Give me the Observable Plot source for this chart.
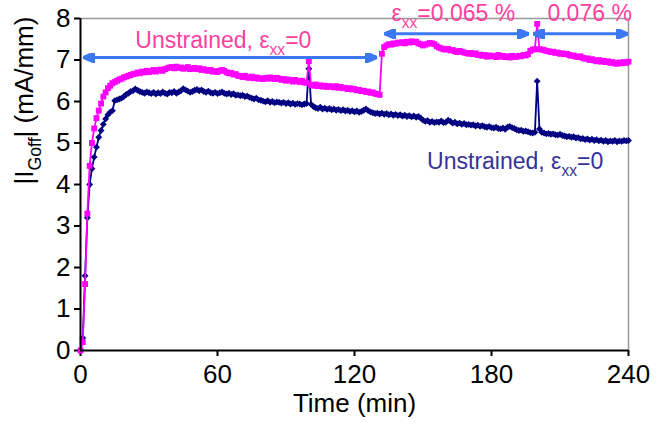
<!DOCTYPE html>
<html>
<head>
<meta charset="utf-8">
<script src="https://cdn.jsdelivr.net/npm/d3@7"></script>
<script src="https://cdn.jsdelivr.net/npm/@observablehq/plot@0.6"></script>
<style>
  html, body { margin: 0; padding: 0; background: #fff; }
  #chart { width: 671px; height: 434px; }
</style>
</head>
<body>
<div id="chart"></div>
<script>
// ---- Data (one sample per minute, t = 0 … 240 min) ----
const sampleStepMin = 1;
const strainedSeries = [ // magenta squares
  0, 0.2, 1.6, 3.3, 4.45, 5.0, 5.35, 5.6, 5.78, 5.95,
  6.12, 6.22, 6.32, 6.38, 6.44, 6.47, 6.5, 6.53, 6.55, 6.58,
  6.6, 6.62, 6.64, 6.66, 6.67, 6.70, 6.68, 6.72, 6.70, 6.74,
  6.71, 6.73, 6.76, 6.72, 6.75, 6.77, 6.74, 6.78, 6.80, 6.82,
  6.83, 6.80, 6.84, 6.81, 6.82, 6.79, 6.80, 6.83, 6.78, 6.79,
  6.81, 6.78, 6.80, 6.76, 6.78, 6.75, 6.74, 6.76, 6.72, 6.73,
  6.71, 6.74, 6.76, 6.74, 6.70, 6.68, 6.69, 6.65, 6.66, 6.62,
  6.61, 6.59, 6.62, 6.58, 6.57, 6.60, 6.56, 6.58, 6.55, 6.56,
  6.54, 6.57, 6.55, 6.58, 6.56, 6.54, 6.57, 6.55, 6.52, 6.54,
  6.50, 6.53, 6.51, 6.48, 6.52, 6.49, 6.47, 6.50, 6.46, 6.45,
  6.97, 6.40, 6.38, 6.41, 6.37, 6.39, 6.36, 6.38, 6.35, 6.37,
  6.36, 6.34, 6.37, 6.33, 6.35, 6.32, 6.33, 6.30, 6.32, 6.29,
  6.30, 6.27, 6.28, 6.25, 6.26, 6.23, 6.24, 6.21, 6.22, 6.19,
  6.18, 6.16, 7.15, 7.31, 7.35, 7.38, 7.37, 7.40, 7.39, 7.42,
  7.41, 7.43, 7.40, 7.44, 7.42, 7.45, 7.43, 7.44, 7.40, 7.38,
  7.35, 7.37, 7.39, 7.41, 7.40, 7.38, 7.33, 7.30, 7.28, 7.26,
  7.25, 7.27, 7.23, 7.24, 7.21, 7.19, 7.22, 7.20, 7.18, 7.17,
  7.15, 7.17, 7.14, 7.16, 7.12, 7.13, 7.10, 7.12, 7.08, 7.11,
  7.09, 7.10, 7.07, 7.12, 7.08, 7.10, 7.07, 7.09, 7.06, 7.10,
  7.07, 7.08, 7.10, 7.09, 7.12, 7.11, 7.14, 7.22, 7.25, 7.26,
  7.87, 7.26, 7.25, 7.24, 7.22, 7.21, 7.19, 7.20, 7.17, 7.18,
  7.15, 7.16, 7.14, 7.15, 7.12, 7.10, 7.11, 7.08, 7.07, 7.09,
  7.05, 7.03, 7.04, 7.00, 7.02, 6.99, 6.97, 7.00, 6.96, 6.98,
  6.95, 6.97, 6.93, 6.95, 6.92, 6.91, 6.94, 6.92, 6.95, 6.93,
  6.96
];
const unstrainedSeries = [ // navy diamonds
  0, 0.3, 1.8, 3.2, 4.0, 4.38, 4.66, 4.9, 5.14, 5.3,
  5.45, 5.58, 5.68, 5.74, 5.78, 6.02, 6.04, 6.06, 6.08, 6.12,
  6.17, 6.20, 6.24, 6.26, 6.30, 6.27, 6.24, 6.22, 6.20, 6.23,
  6.21, 6.19, 6.22, 6.18, 6.21, 6.19, 6.23, 6.20, 6.18, 6.22,
  6.21, 6.24, 6.20, 6.23, 6.26, 6.31, 6.28, 6.25, 6.22, 6.24,
  6.27, 6.29, 6.26, 6.28, 6.24, 6.22, 6.25, 6.21, 6.20, 6.22,
  6.19, 6.21, 6.23, 6.20, 6.18, 6.20, 6.17, 6.19, 6.15, 6.16,
  6.14, 6.15, 6.12, 6.13, 6.10, 6.08, 6.06, 6.08, 6.04, 6.03,
  6.01, 5.99, 6.02, 5.98, 6.00, 5.97, 5.99, 5.98, 5.96, 5.98,
  5.95, 5.97, 5.94, 5.96, 5.93, 5.95, 5.94, 5.92, 5.94, 5.95,
  6.79, 5.93, 5.88, 5.85, 5.83, 5.86, 5.82, 5.84, 5.81, 5.83,
  5.80, 5.82, 5.79, 5.81, 5.78, 5.80, 5.77, 5.79, 5.76, 5.78,
  5.75, 5.77, 5.74, 5.76, 5.79, 5.82, 5.78, 5.75, 5.73, 5.71,
  5.72, 5.70, 5.72, 5.69, 5.71, 5.68, 5.70, 5.67, 5.69, 5.66,
  5.68, 5.65, 5.67, 5.64, 5.66, 5.63, 5.65, 5.62, 5.64, 5.60,
  5.55, 5.52, 5.54, 5.50, 5.52, 5.49, 5.51, 5.50, 5.53, 5.49,
  5.50, 5.55, 5.52, 5.48, 5.50, 5.46, 5.48, 5.45, 5.47, 5.44,
  5.45, 5.43, 5.44, 5.41, 5.43, 5.40, 5.42, 5.39, 5.38, 5.40,
  5.37, 5.36, 5.38, 5.35, 5.34, 5.36, 5.33, 5.38, 5.40, 5.37,
  5.35, 5.32, 5.30, 5.31, 5.28, 5.29, 5.27, 5.25, 5.24, 5.26,
  6.49, 5.34, 5.26, 5.24, 5.22, 5.23, 5.21, 5.22, 5.20, 5.19,
  5.21, 5.18, 5.17, 5.15, 5.16, 5.14, 5.15, 5.12, 5.13, 5.10,
  5.11, 5.08, 5.10, 5.07, 5.09, 5.06, 5.08, 5.05, 5.07, 5.04,
  5.06, 5.03, 5.05, 5.04, 5.06, 5.03, 5.05, 5.04, 5.06, 5.05,
  5.06
];
const xTicks = [0, 60, 120, 180, 240];
const yTicks = [0, 1, 2, 3, 4, 5, 6, 7, 8];
const xTitle = "Time (min)";
const yTitle = "|I_{Goff}| (mA/mm)";
// strain-period arrows
const periodStart = [1.2, 133.1, 198.2];
const periodEnd = [129.9, 196.3, 239.8];
const periodLevel = [7.06, 7.63, 7.63];
// annotations
const pinkLabels = ["Unstrained, ε_{xx}=0", "ε_{xx}=0.065 %", "0.076 %"];
const pinkLabelT = [24, 136.2, 204.5];
const pinkLabelV = [7.47, 8.12, 8.12];
const navyLabels = ["Unstrained, ε_{xx}=0"];
const navyLabelT = [151.8];
const navyLabelV = [4.55];

// ---- Build tables ----
const strained = strainedSeries.map((v, i) => ({t: i * sampleStepMin, v}));
const unstrained = unstrainedSeries.map((v, i) => ({t: i * sampleStepMin, v}));
const periods = periodStart.map((s, i) => ({x1: s, x2: periodEnd[i], y: periodLevel[i]}));
const pinkAnn = pinkLabels.map((txt, i) => ({txt, t: pinkLabelT[i], v: pinkLabelV[i]}));
const navyAnn = navyLabels.map((txt, i) => ({txt, t: navyLabelT[i], v: navyLabelV[i]}));

const MAGENTA = "#FF00FF", NAVY = "#000080", BLUE = "#3B78F2", PINK = "#FF3FA0", NAVYTXT = "#333399";
const FONT = "'Liberation Sans', Arial, Helvetica, sans-serif";

function filledArrowHead(color) {
  const ns = "http://www.w3.org/2000/svg";
  const m = document.createElementNS(ns, "marker");
  m.setAttribute("viewBox", "0 -5 10 10");
  m.setAttribute("refX", "10");
  m.setAttribute("refY", "0");
  m.setAttribute("markerUnits", "userSpaceOnUse");
  m.setAttribute("markerWidth", "12");
  m.setAttribute("markerHeight", "10");
  m.setAttribute("preserveAspectRatio", "none");
  m.setAttribute("orient", "auto-start-reverse");
  const p = document.createElementNS(ns, "path");
  p.setAttribute("d", "M0,-5L10,0L0,5Z");
  p.setAttribute("fill", color);
  m.appendChild(p);
  return m;
}

const chart = Plot.plot({
  width: 671,
  height: 434,
  marginLeft: 80,
  marginRight: 43,
  marginTop: 18,
  marginBottom: 84,
  style: {fontFamily: FONT, fontSize: "26px", background: "#fff", color: "#000", overflow: "visible"},
  x: {domain: [0, 240], label: null},
  y: {domain: [0, 8], label: null},
  marks: [
    Plot.ruleY([8], {stroke: "#999", strokeWidth: 1.5}),
    Plot.ruleX([240], {stroke: "#999", strokeWidth: 1.5}),
    Plot.axisX({ticks: xTicks, tickSize: 6, tickPadding: 8, strokeWidth: 2, fontSize: 26, label: null, tickFormat: d => String(d)}),
    Plot.axisY({ticks: yTicks, tickSize: 6, tickPadding: 4, strokeWidth: 2, fontSize: 26, label: null, tickFormat: d => String(d)}),
    Plot.text([xTitle], {frameAnchor: "bottom", dy: 61, fontSize: 26, fill: "#000"}),
    Plot.text([yTitle], {frameAnchor: "left", rotate: -90, dx: -56, fontSize: 26, fill: "#000"}),
    // series
    Plot.line(unstrained, {x: "t", y: "v", stroke: NAVY, strokeWidth: 1.8}),
    Plot.dot(unstrained, {x: "t", y: "v", symbol: "diamond2", r: 3.1, fill: NAVY, stroke: "none"}),
    Plot.line(strained, {x: "t", y: "v", stroke: MAGENTA, strokeWidth: 1.8}),
    Plot.dot(strained, {x: "t", y: "v", symbol: "square", r: 3.3, fill: MAGENTA, stroke: "none"}),
    // period arrows
    Plot.link(periods, {x1: "x1", x2: "x2", y1: "y", y2: "y", stroke: BLUE, strokeWidth: 3,
      markerStart: filledArrowHead, markerEnd: filledArrowHead}),
    // annotations
    Plot.text(pinkAnn, {x: "t", y: "v", text: "txt", textAnchor: "start", fill: PINK, fontSize: 23}),
    Plot.text(navyAnn, {x: "t", y: "v", text: "txt", textAnchor: "start", fill: NAVYTXT, fontSize: 23}),
    Plot.ruleX([0], {stroke: "#000", strokeWidth: 2}),
    Plot.ruleY([0], {stroke: "#000", strokeWidth: 2})
  ]
});
document.getElementById("chart").appendChild(chart);

// ---- turn "_{...}" into real subscripts ----
chart.querySelectorAll("text").forEach(t => {
  const s = t.textContent;
  if (!s.includes("_{")) return;
  const F = parseFloat(getComputedStyle(t).fontSize) || 24;
  const shift = 0.3 * F;
  const parts = s.split(/(_\{[^}]*\})/).filter(p => p);
  while (t.firstChild) t.removeChild(t.firstChild);
  let afterSub = false;
  for (const p of parts) {
    const ts = document.createElementNS("http://www.w3.org/2000/svg", "tspan");
    if (p.startsWith("_{")) {
      ts.textContent = p.slice(2, -1);
      ts.setAttribute("font-size", (0.68 * F).toFixed(1));
      ts.setAttribute("dy", shift.toFixed(1));
      afterSub = true;
    } else {
      ts.textContent = p;
      if (afterSub) ts.setAttribute("dy", (-shift).toFixed(1));
      afterSub = false;
    }
    t.appendChild(ts);
  }
});
</script>
</body>
</html>
